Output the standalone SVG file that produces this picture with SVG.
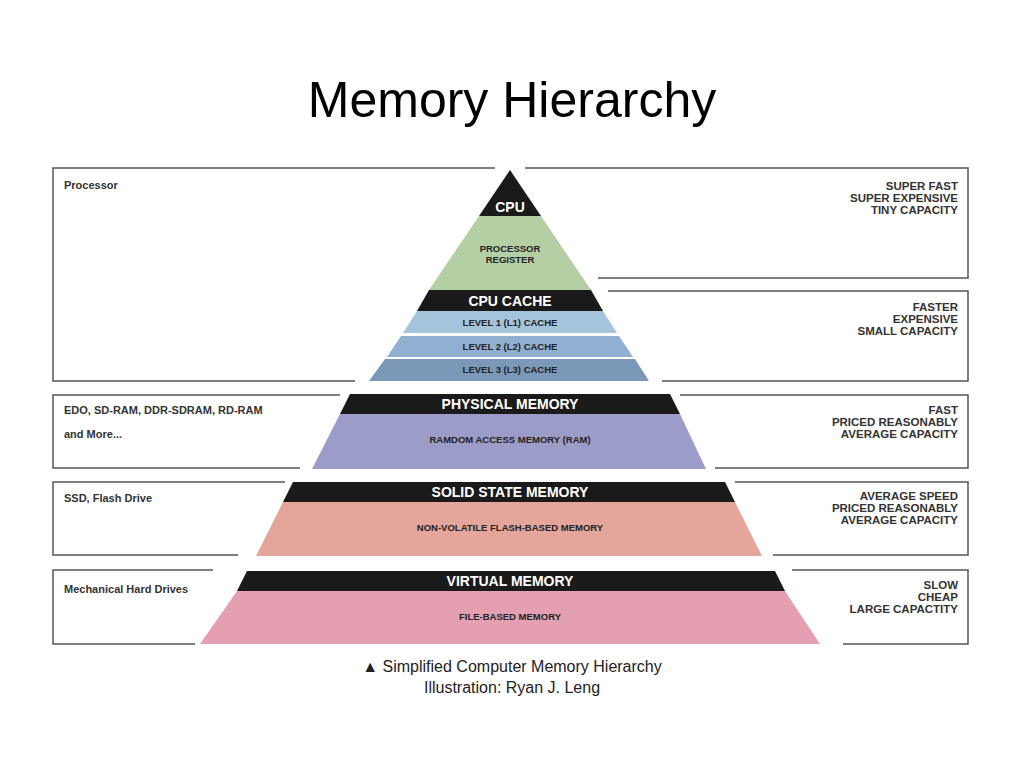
<svg xmlns="http://www.w3.org/2000/svg" width="1024" height="768" viewBox="0 0 1024 768">
<style>
.f{font-family:"Liberation Sans",Arial,sans-serif}
.ln{fill:none;stroke:#555;stroke-width:1.5}
.lt{font-family:"Liberation Sans",Arial,sans-serif;font-weight:bold;font-size:11px;fill:#333}
.rt{font-family:"Liberation Sans",Arial,sans-serif;font-weight:bold;font-size:11.5px;fill:#333;text-anchor:end}
.bt{font-family:"Liberation Sans",Arial,sans-serif;font-weight:bold;font-size:14px;fill:#fff;text-anchor:middle}
.it{font-family:"Liberation Sans",Arial,sans-serif;font-weight:bold;font-size:9.5px;fill:#222;text-anchor:middle}
</style>
<rect width="1024" height="768" fill="#fff"/>
<text class="f" x="512" y="117" font-size="50" text-anchor="middle" fill="#000">Memory Hierarchy</text>
<g id="frames">
<path class="ln" d="M495,168 H53 V381 H355"/>
<path class="ln" d="M525,168 H968 V278 H598"/>
<path class="ln" d="M608,291 H968 V381 H662"/>
<path class="ln" d="M340,395 H53 V468 H300"/>
<path class="ln" d="M680,395 H968 V468 H715"/>
<path class="ln" d="M285,482 H53 V555 H238"/>
<path class="ln" d="M735,482 H968 V555 H773"/>
<path class="ln" d="M213,570 H53 V644 H195"/>
<path class="ln" d="M792,570 H968 V644 H843"/>
</g>
<g id="cpu">
<polygon points="510,170 479,216 541,216" fill="#1a1a1a"/>
<text class="bt" x="510" y="212">CPU</text>
<polygon points="479,216 541,216 591,290 429,290" fill="#b5cfa5"/>
<text class="it" x="510" y="252">PROCESSOR</text>
<text class="it" x="510" y="263">REGISTER</text>
</g>
<g id="cache">
<polygon points="429,290 591,290 603,311 417,311" fill="#1a1a1a"/>
<text class="bt" x="510" y="306">CPU CACHE</text>
<polygon points="417,311 603,311 617,333 403,333" fill="#a4c4dc"/>
<text class="it" x="510" y="326">LEVEL 1 (L1) CACHE</text>
<polygon points="401,336 619,336 633,357 387,357" fill="#8fb0d0"/>
<text class="it" x="510" y="350">LEVEL 2 (L2) CACHE</text>
<polygon points="385,359 635,359 649,381 369,381" fill="#7b98b8"/>
<text class="it" x="510" y="373">LEVEL 3 (L3) CACHE</text>
</g>
<g id="ram">
<polygon points="350,394 670,394 680,414 340,414" fill="#1a1a1a"/>
<text class="bt" x="510" y="409">PHYSICAL MEMORY</text>
<polygon points="340,414 680,414 706,469 312,469" fill="#9c9cc8"/>
<text class="it" x="510" y="443">RAMDOM ACCESS MEMORY (RAM)</text>
</g>
<g id="ssd">
<polygon points="293,482 725,482 735,502 283,502" fill="#1a1a1a"/>
<text class="bt" x="510" y="497">SOLID STATE MEMORY</text>
<polygon points="283,502 735,502 762,556 256,556" fill="#e4a59a"/>
<text class="it" x="510" y="531">NON-VOLATILE FLASH-BASED MEMORY</text>
</g>
<g id="virtual">
<polygon points="247,571 775,571 785,591 237,591" fill="#1a1a1a"/>
<text class="bt" x="510" y="586">VIRTUAL MEMORY</text>
<polygon points="237,591 785,591 820,644 200,644" fill="#e4a0b0"/>
<text class="it" x="510" y="620">FILE-BASED MEMORY</text>
</g>
<g id="left-labels">
<text class="lt" x="64" y="189">Processor</text>
<text class="lt" x="64" y="414">EDO, SD-RAM, DDR-SDRAM, RD-RAM</text>
<text class="lt" x="64" y="438">and More...</text>
<text class="lt" x="64" y="502">SSD, Flash Drive</text>
<text class="lt" x="64" y="593">Mechanical Hard Drives</text>
</g>
<g id="right-labels">
<text class="rt" x="958" y="190">SUPER FAST</text>
<text class="rt" x="958" y="202">SUPER EXPENSIVE</text>
<text class="rt" x="958" y="214">TINY CAPACITY</text>
<text class="rt" x="958" y="311">FASTER</text>
<text class="rt" x="958" y="323">EXPENSIVE</text>
<text class="rt" x="958" y="335">SMALL CAPACITY</text>
<text class="rt" x="958" y="414">FAST</text>
<text class="rt" x="958" y="426">PRICED REASONABLY</text>
<text class="rt" x="958" y="438">AVERAGE CAPACITY</text>
<text class="rt" x="958" y="500">AVERAGE SPEED</text>
<text class="rt" x="958" y="512">PRICED REASONABLY</text>
<text class="rt" x="958" y="524">AVERAGE CAPACITY</text>
<text class="rt" x="958" y="589">SLOW</text>
<text class="rt" x="958" y="601">CHEAP</text>
<text class="rt" x="958" y="613">LARGE CAPACTITY</text>
</g>
<text class="f" x="512" y="672" font-size="16" text-anchor="middle" fill="#222">▲ Simplified Computer Memory Hierarchy</text>
<text class="f" x="512" y="693" font-size="16" text-anchor="middle" fill="#222">Illustration: Ryan J. Leng</text>
</svg>
